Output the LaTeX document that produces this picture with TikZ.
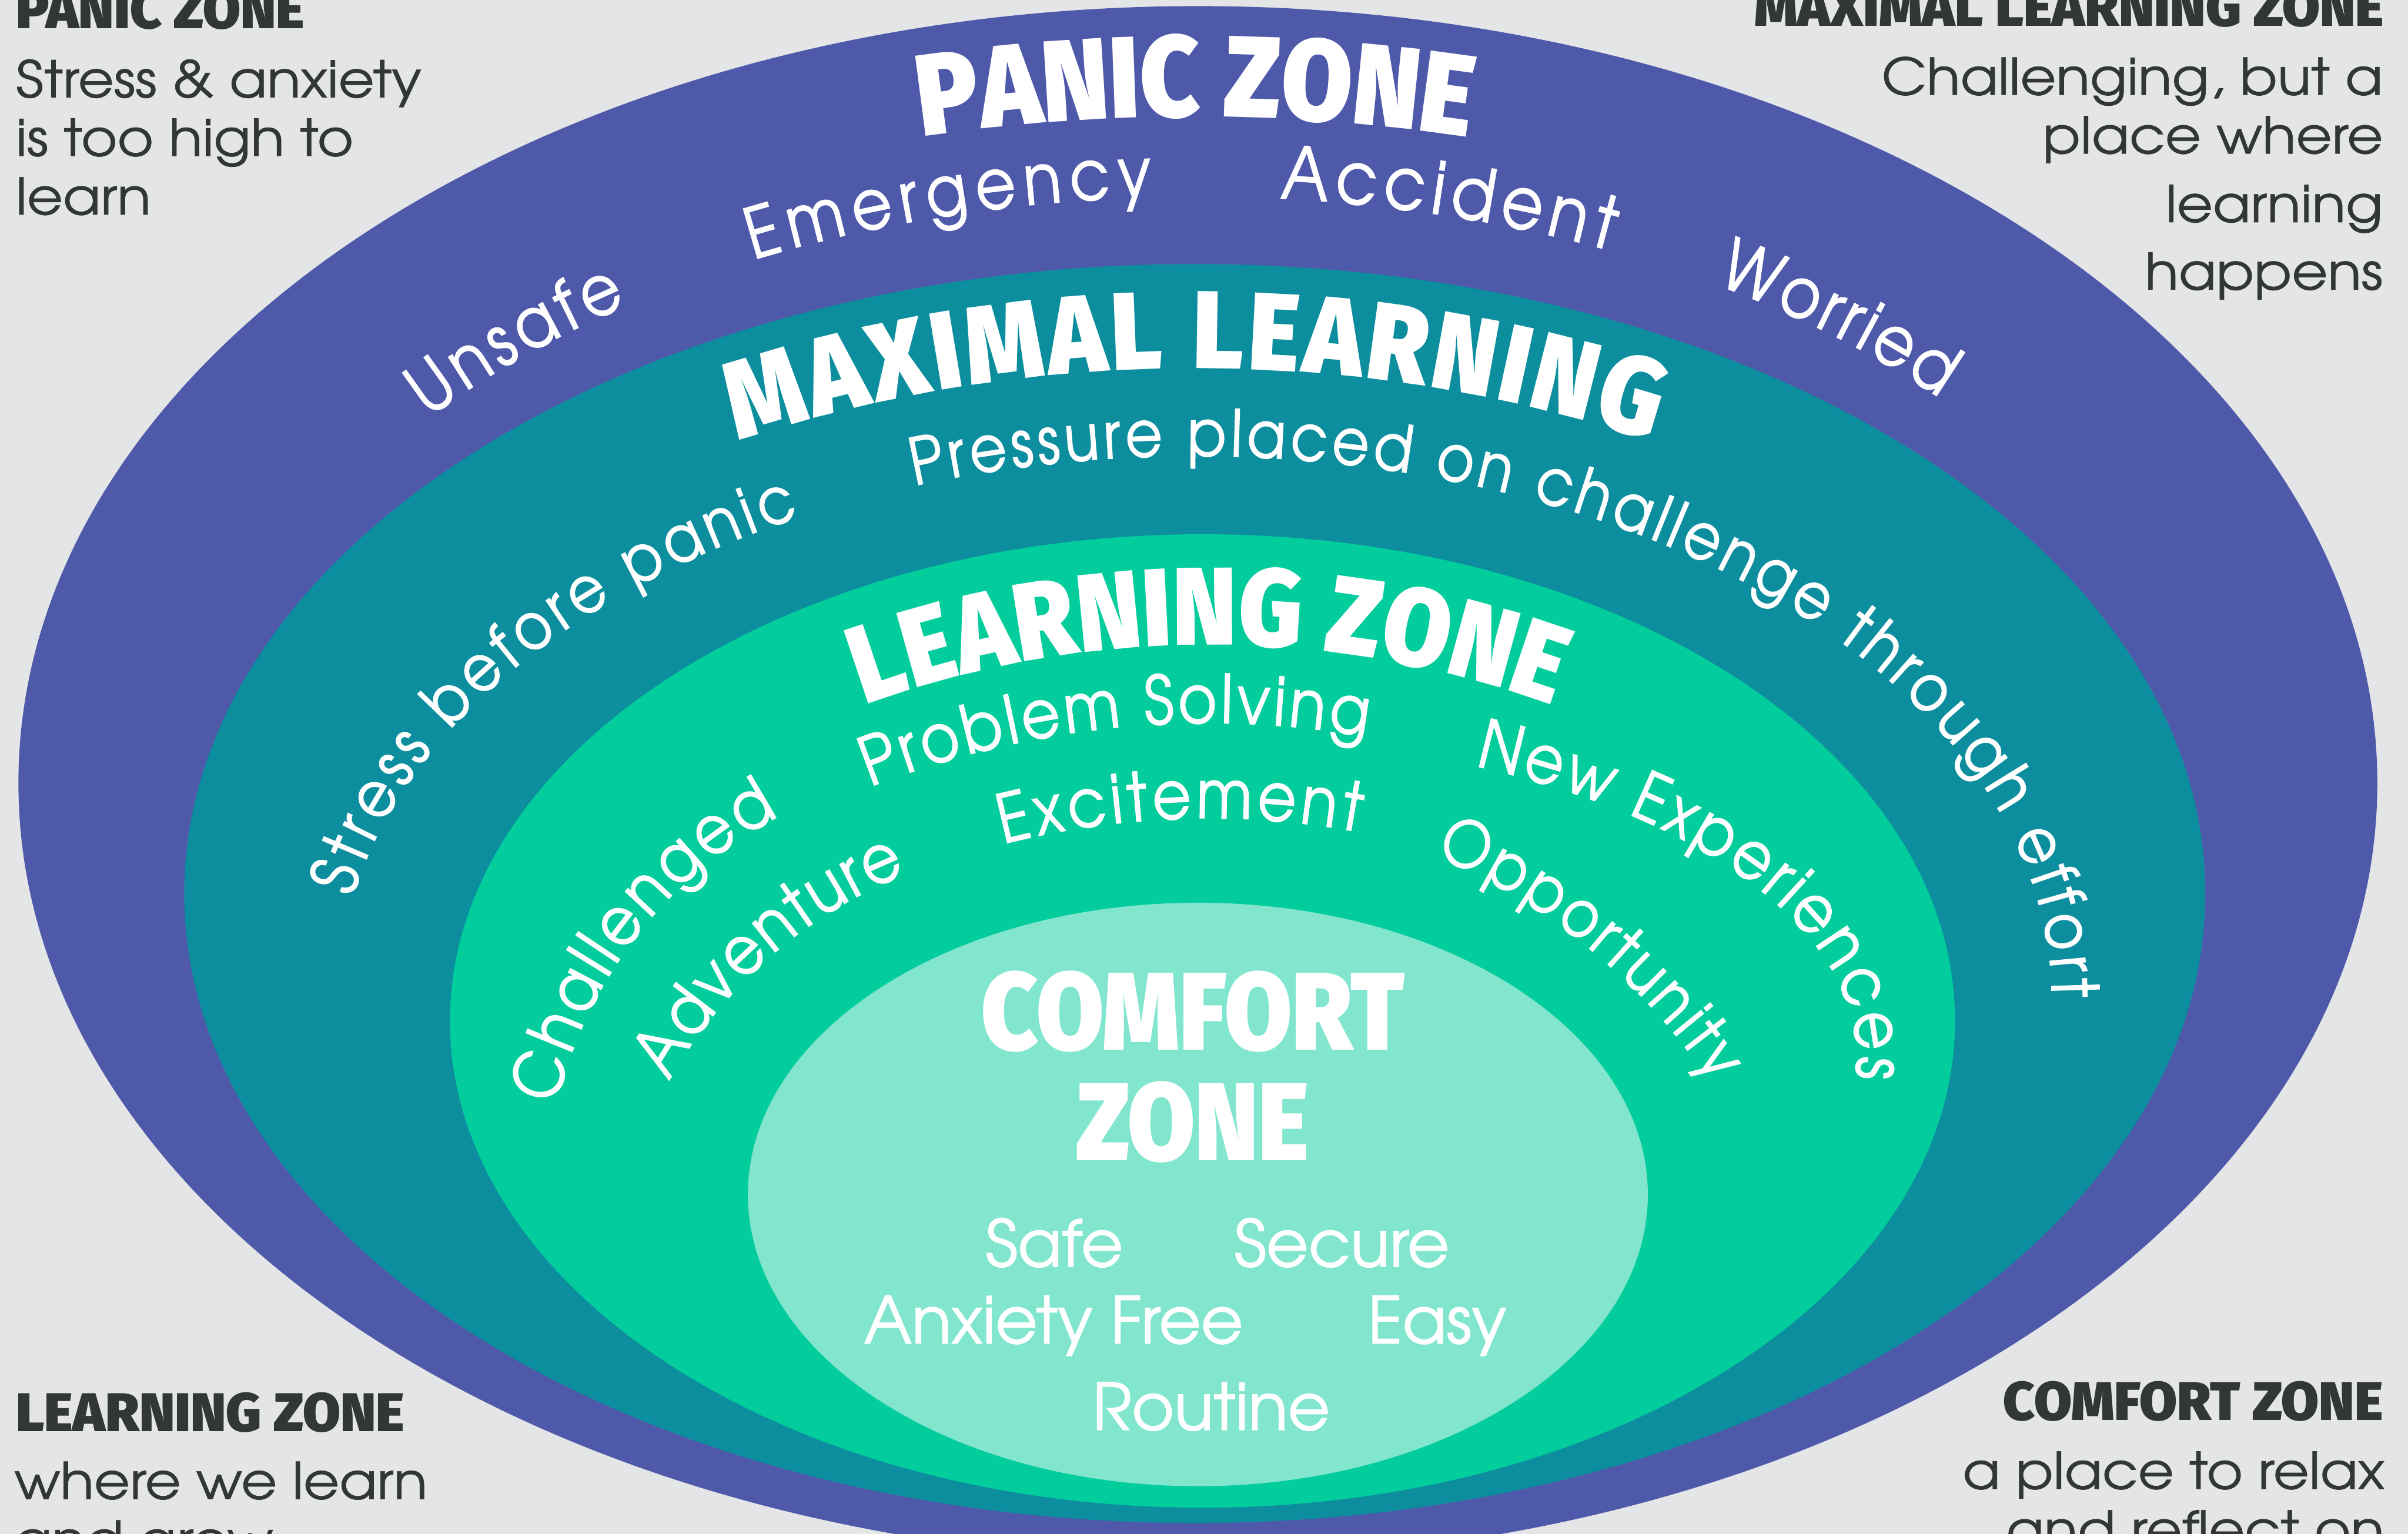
\documentclass[tikz,border=0pt]{standalone}
\usepackage{fontspec}
\usetikzlibrary{decorations.text}

\IfFontExistsTF{TeX Gyre Adventor}
  {\setmainfont{TeX Gyre Adventor}[FakeBold=1.2]
   \newfontfamily\notefont{TeX Gyre Adventor}[FakeStretch=1.09, FakeBold=0.8]
   \newfontfamily\ringface{TeX Gyre Adventor}[FakeStretch=0.88, FakeBold=1.2]}
  {\setmainfont{Poppins}
   \newfontfamily\notefont{Poppins}
   \newfontfamily\ringface{Poppins}[FakeStretch=0.85]}
\IfFontExistsTF{Fira Sans Black}
  {\newfontfamily\headfont{Fira Sans Black}
   \newfontfamily\headnarrow{Fira Sans Black}[FakeStretch=0.88]}
  {\newfontfamily\headfont{Liberation Sans Bold}[FakeStretch=0.9]
   \newfontfamily\headnarrow{Liberation Sans Bold}[FakeStretch=0.8]}

\definecolor{panicblue}{HTML}{4F59AA}
\definecolor{maxteal}{HTML}{0C8E9E}
\definecolor{learngreen}{HTML}{03CC9D}
\definecolor{comfortmint}{HTML}{82E6CF}
\definecolor{inkgray}{HTML}{333637}
\definecolor{bgin}{HTML}{F2F2F3}
\definecolor{bgout}{HTML}{E4E5E7}

% white lettering on the rings
\newcommand\ringfont[1]{\ringface\fontsize{#1}{#1}\selectfont\color{white}}
\newcommand\ringhead[1]{\headnarrow\fontsize{#1}{#1}\selectfont\color{white}}

% text bent along an elliptic arc: font, centre, x radius, y radius, from, to, text
\newcommand\bendtext[7]{%
  \path[decorate, decoration={text along path, text align=fit to path,
        text={|#1|#7}}]
    ([shift={(#5:#3 and #4)}]#2) arc[start angle=#5, end angle=#6,
        x radius=#3, y radius=#4];}

\tikzset{
  cornerhead/.style={font=\headfont\fontsize{20.2}{20}\selectfont, text=inkgray, inner sep=0pt},
  cornertext/.style={font=\notefont\fontsize{18.8}{22}\selectfont, text=inkgray, inner sep=0pt},
  comforthead/.style={font=\headnarrow\fontsize{41}{41}\selectfont, text=white, inner sep=0pt},
  comfortword/.style={font=\fontsize{24}{24}\selectfont, text=white, inner sep=0pt}
}

\begin{document}
\begin{tikzpicture}[x=0.02cm, y=0.02cm]
  \useasboundingbox (0,0) rectangle (1568,999);
  \shade[inner color=bgin, outer color=bgout] (0,0) rectangle (1568,999);

  % zones, outermost first
  \fill[panicblue]   (780,489) ellipse [x radius=768, y radius=506];
  \fill[maxteal]     (778,417) ellipse [x radius=658, y radius=410];
  \fill[learngreen]  (783,334) ellipse [x radius=490, y radius=317];
  \fill[comfortmint] (780,221) ellipse [x radius=293, y radius=190];

  % panic ring
  \bendtext{\ringhead{43}}{777,-288}{1211}{1211}{98.4}{81.6}{PANIC ZONE}
  \bendtext{\ringfont{26}}{780,489}{640}{382}{141.5}{125.5}{Unsafe}
  \bendtext{\ringfont{26}}{780,489}{640}{382}{116.9}{92.7}{Emergency}
  \bendtext{\ringfont{27}}{780,489}{640}{382}{85.2}{65.2}{Accident}
  \bendtext{\ringfont{26}}{780,489}{640}{382}{58.2}{41}{Worried}

  % maximal learning ring
  \bendtext{\ringhead{41}}{778,-203}{962}{962}{108}{72}{MAXIMAL LEARNING}
  \bendtext{\ringfont{24}}{778,349}{558}{353}{169.3}{117.5}{Stress before panic}
  \bendtext{\ringfont{24}}{778,349}{558}{353}{109.1}{0}{Pressure placed on challenge through effort}

  % learning ring
  \bendtext{\ringhead{41}}{787,-76}{655}{655}{110}{70}{LEARNING ZONE}
  \bendtext{\ringfont{25}}{787,-76}{604}{604}{111.4}{80.2}{Problem Solving}
  \bendtext{\ringfont{25}}{787,-76}{542}{542}{104.3}{79.6}{Excitement}
  \bendtext{\ringfont{25}}{640,215}{285}{285}{167}{117.7}{Challenged}
  \bendtext{\ringfont{25}}{702,146}{305}{305}{150.8}{111.5}{Adventure}
  \bendtext{\ringfont{25}}{783,310}{426}{209}{65.4}{-3.7}{New Experiences}
  \bendtext{\ringfont{24}}{781,72}{400}{400}{67.5}{33.5}{Opportunity}

  % comfort zone
  \node[comforthead, anchor=base] (comforttitle) at (777,315) {COMFORT};
  \node[comforthead, anchor=base] (comfortzone) at (776.6,243) {ZONE};
  \node[comfortword, anchor=base] (safe) at (686.5,174) {Safe};
  \node[comfortword, anchor=base] (secure) at (873.7,174) {Secure};
  \node[comfortword, anchor=base] (anxfree) at (686,124) {Anxiety Free};
  \node[comfortword, anchor=base] (easy) at (935.8,124) {Easy};
  \node[comfortword, anchor=base] (routine) at (788.7,67.6) {Routine};

  % corner notes
  \node[cornerhead, anchor=base west] (panicnote) at (10,980.6) {PANIC ZONE};
  \foreach \txt/\yy [count=\i] in {Stress \& anxiety/935.5, is too high to/897.4, learn/859.2}
    \node[cornertext, anchor=base west] (panicline\i) at (10,\yy) {\txt};

  \node[cornerhead, anchor=base east] (maxnote) at (1552.6,981.8) {MAXIMAL LEARNING ZONE};
  \foreach \txt/\yy [count=\i] in {{Challenging, but a}/937.2, place where/899, learning/854.3, happens/810.3}
    \node[cornertext, anchor=base east] (maxline\i) at (1552,\yy) {\txt};

  \node[cornerhead, anchor=base west] (learnnote) at (10,66.7) {LEARNING ZONE};
  \foreach \txt/\yy [count=\i] in {where we learn/22.6, and grow/-15.6}
    \node[cornertext, anchor=base west] (learnline\i) at (9,\yy) {\txt};

  \node[cornerhead, anchor=base east] (comfortnote) at (1552,73.8) {COMFORT ZONE};
  \foreach \txt/\yy [count=\i] in {a place to relax/29.2, and reflect on/-9}
    \node[cornertext, anchor=base east] (comfortline\i) at (1553,\yy) {\txt};
\end{tikzpicture}
\end{document}
